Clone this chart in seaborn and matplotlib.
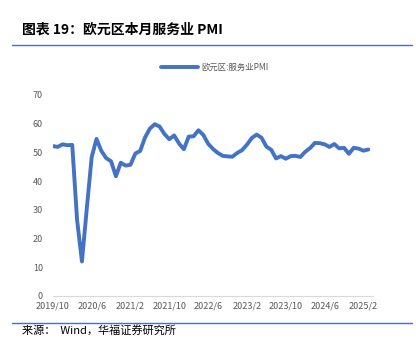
import pandas as pd
import matplotlib.pyplot as plt
import seaborn as sns
from matplotlib.lines import Line2D

# Eurozone services PMI, monthly 2019/10 - 2025/3
pmi_2019 = [52.2, 51.9, 52.8]
pmi_2020 = [52.5, 52.6, 26.4, 12.0, 30.5, 48.3, 54.7, 50.5, 48.0, 46.9, 41.7, 46.4]
pmi_2021 = [45.4, 45.7, 49.6, 50.5, 55.2, 58.3, 59.8, 59.0, 56.4, 54.6, 55.9, 53.1]
pmi_2022 = [51.1, 55.5, 55.6, 57.7, 56.1, 53.0, 51.2, 49.8, 48.8, 48.6, 48.5, 49.8]
pmi_2023 = [50.8, 52.7, 55.0, 56.2, 55.1, 52.0, 50.9, 47.9, 48.7, 47.8, 48.7, 48.8]
pmi_2024 = [48.4, 50.2, 51.5, 53.3, 53.2, 52.8, 51.9, 52.9, 51.4, 51.6, 49.5, 51.6]
pmi_2025 = [51.3, 50.6, 51.0]

values = pmi_2019 + pmi_2020 + pmi_2021 + pmi_2022 + pmi_2023 + pmi_2024 + pmi_2025
months = pd.period_range("2019-10", periods=len(values), freq="M")
labels = [f"{p.year}/{p.month}" for p in months]

df = pd.DataFrame({"idx": range(len(values)), "pmi": values, "label": labels})

sns.set_style("white")
plt.rcParams['font.family'] = ['Noto Sans CJK SC', 'DejaVu Sans']

blue = "#4472C4"
grey = "#595959"

fig = plt.figure(figsize=(4.16, 3.57), dpi=100)
ax = fig.add_axes([0.127, 0.171, 0.77, 0.563])

sns.lineplot(data=df, x="idx", y="pmi", ax=ax, color=blue, linewidth=2.8,
             label="欧元区:服务业PMI")

ax.set_xlim(0, 66)
ax.set_ylim(0, 70)
ax.set_yticks(range(0, 71, 10))
ticks = list(range(0, 66, 4))
ax.set_xticks(ticks)
ax.set_xticklabels([df["label"][t] if t % 8 == 0 else "" for t in ticks])
ax.set_xlabel("")
ax.set_ylabel("")

for s in ["top", "right", "left"]:
    ax.spines[s].set_visible(False)
ax.spines["bottom"].set_color("#D9D9D9")
ax.spines["bottom"].set_linewidth(0.8)
ax.tick_params(axis="x", colors="#D9D9D9", length=3, width=0.8, labelcolor=grey,
               labelsize=6.5, pad=1)
ax.tick_params(axis="y", length=0, labelcolor=grey, labelsize=6.5, pad=7)

ax.legend(loc="center", bbox_to_anchor=(0.516, 0.81), bbox_transform=fig.transFigure,
          frameon=False, fontsize=6, labelcolor=grey, handlelength=4.5,
          handletextpad=0.4)

fig.text(0.053, 0.916, "图表 19：欧元区本月服务业 PMI", fontsize=10, fontweight="bold",
         va="center", ha="left", color="black")
fig.add_artist(Line2D([0.029, 0.99], [0.874, 0.874], color="#4A6FB5", linewidth=1.0))
fig.add_artist(Line2D([0.029, 0.99], [0.095, 0.095], color="#4A6FB5", linewidth=1.0))
fig.text(0.053, 0.075, "来源：  Wind，华福证券研究所", fontsize=8, va="center",
         ha="left", color="black")

fig.savefig("out.png", dpi=100)
